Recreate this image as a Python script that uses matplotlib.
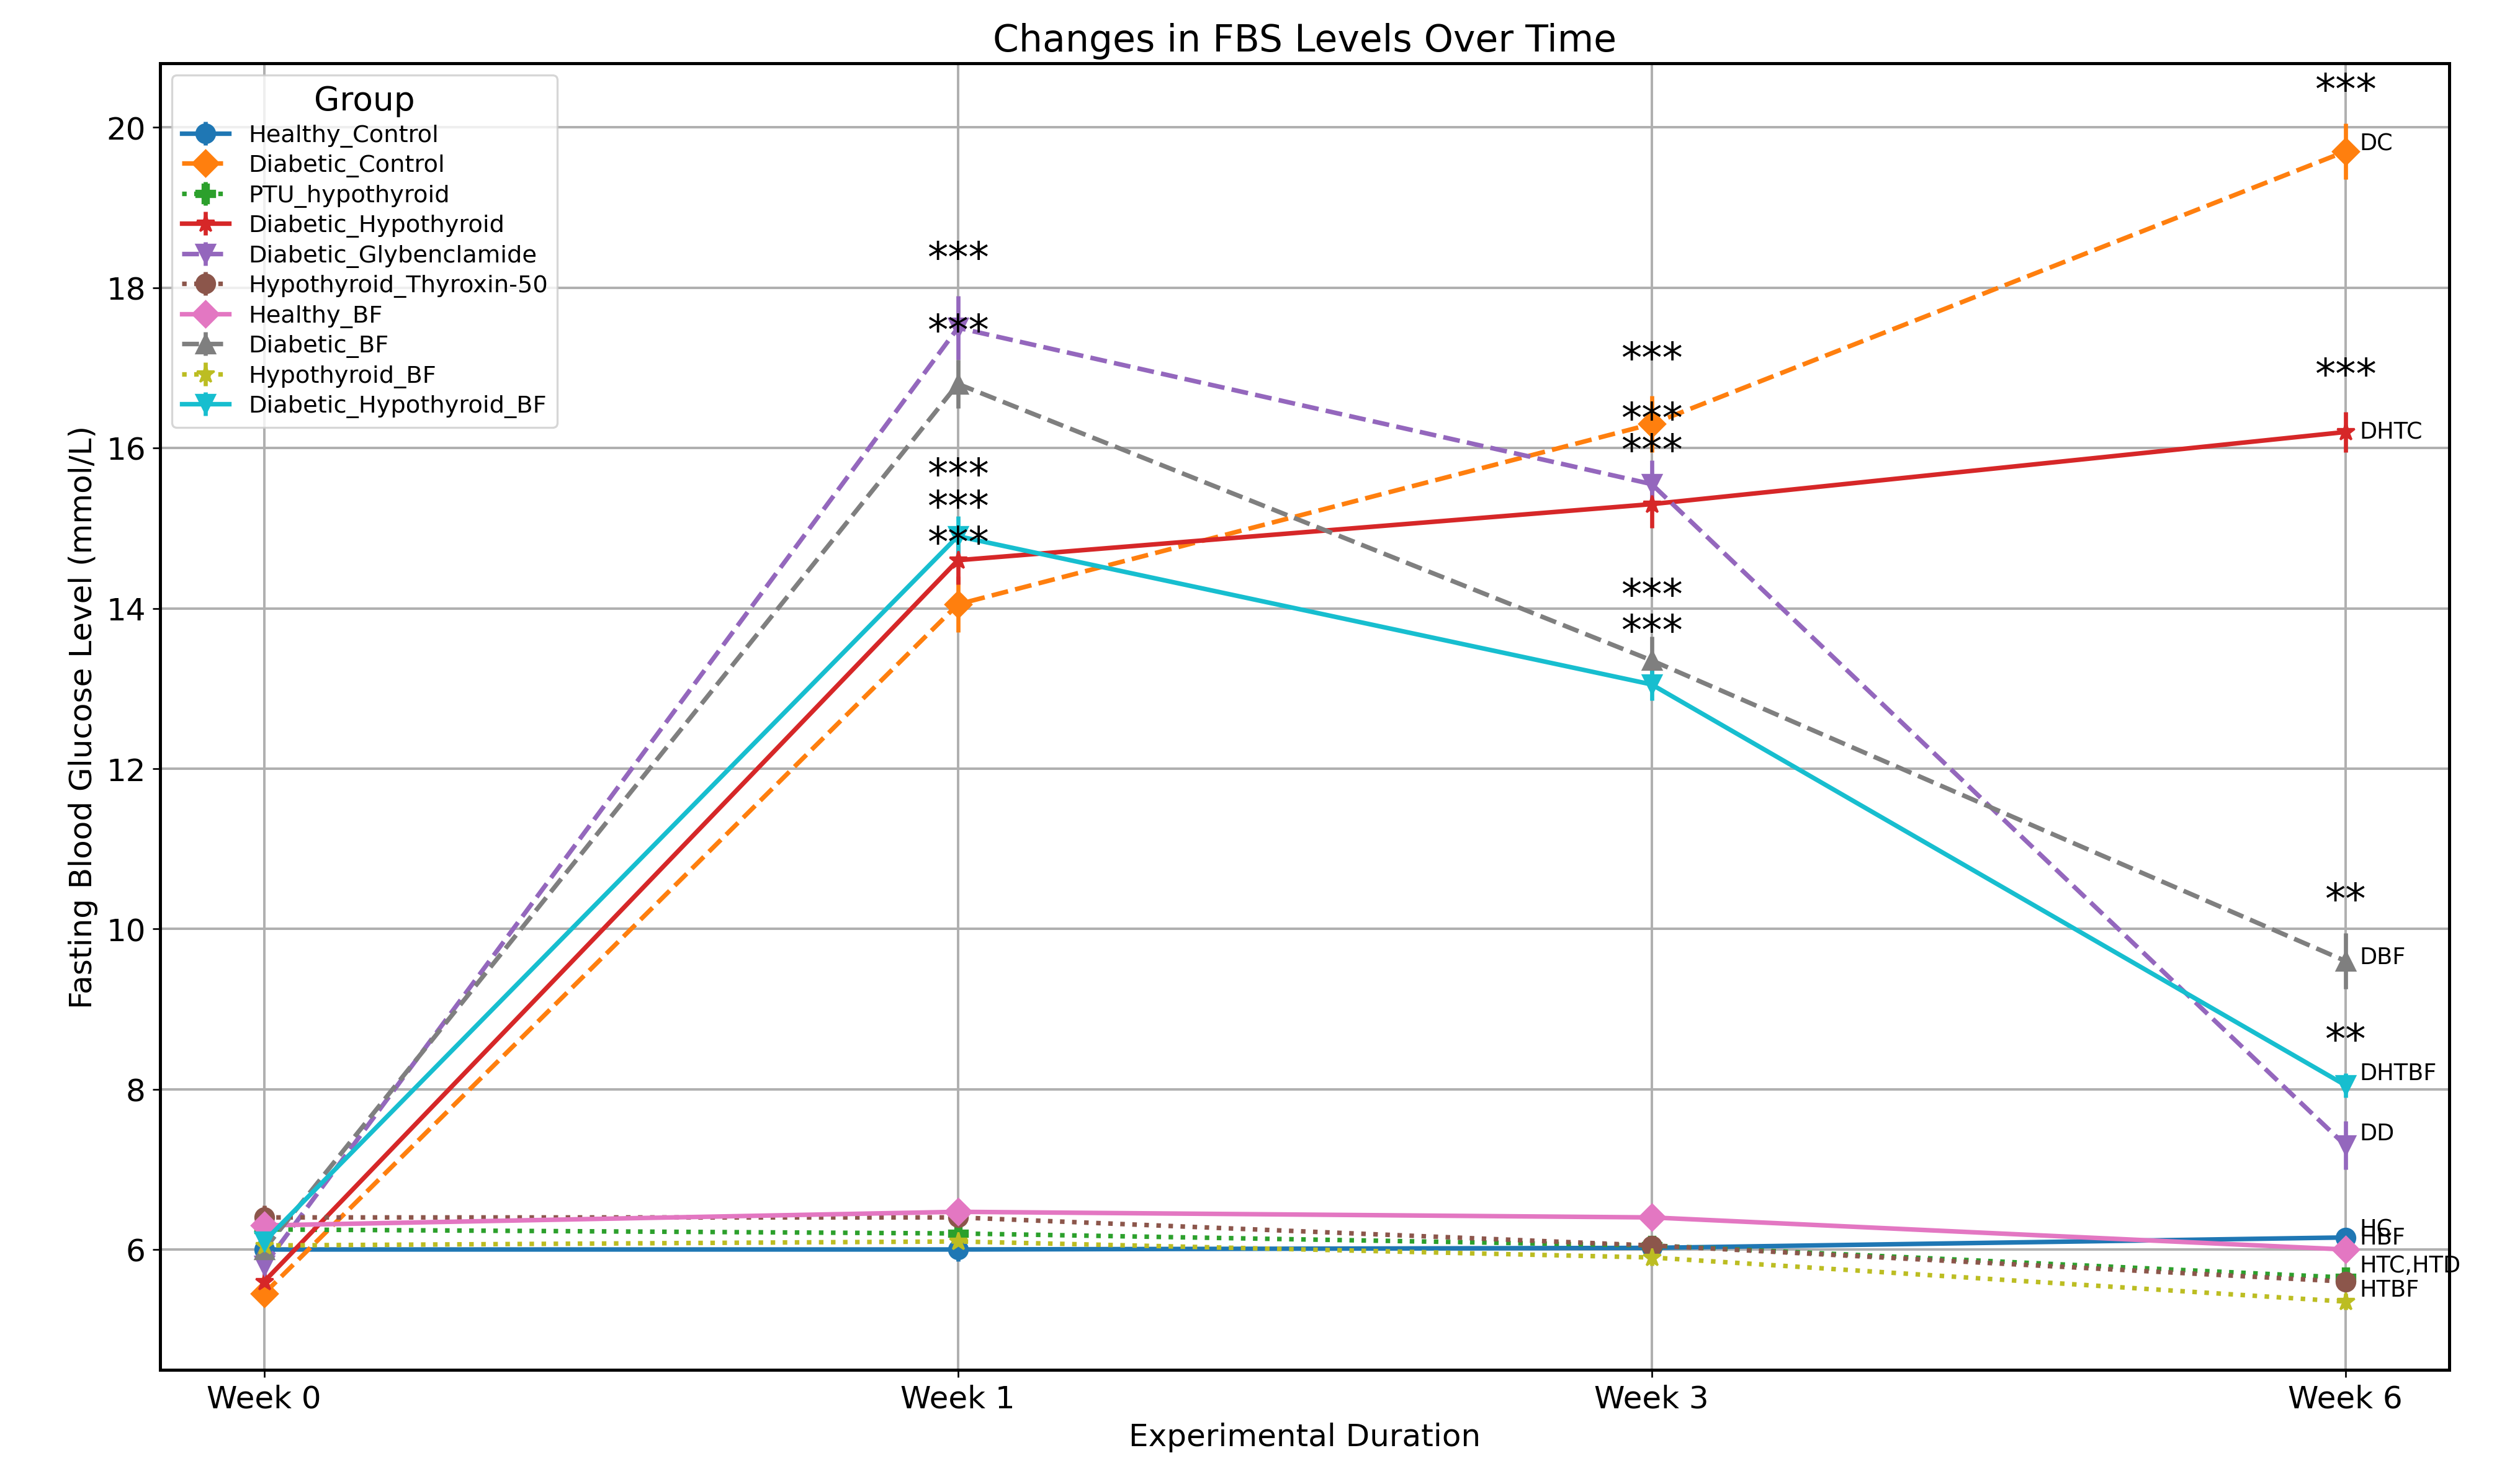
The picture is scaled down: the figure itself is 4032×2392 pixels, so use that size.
import matplotlib
matplotlib.use('Agg')
import matplotlib.pyplot as plt

weeks = ['Week 0', 'Week 1', 'Week 3', 'Week 6']
groups = ['Healthy_Control', 'Diabetic_Control', 'PTU_hypothyroid', 'Diabetic_Hypothyroid',
          'Diabetic_Glybenclamide', 'Hypothyroid_Thyroxin-50', 'Healthy_BF', 'Diabetic_BF',
          'Hypothyroid_BF', 'Diabetic_Hypothyroid_BF']
means = [
    [6.00, 6.00, 6.02, 6.15],
    [5.45, 14.05, 16.30, 19.70],
    [6.25, 6.20, 6.05, 5.65],
    [5.60, 14.60, 15.30, 16.20],
    [5.80, 17.50, 15.55, 7.30],
    [6.40, 6.40, 6.05, 5.60],
    [6.30, 6.47, 6.40, 6.00],
    [6.00, 16.80, 13.35, 9.60],
    [6.05, 6.10, 5.90, 5.35],
    [6.10, 14.90, 13.05, 8.05],
]
errs = [
    [0.10, 0.15, 0.10, 0.12],
    [0.15, 0.35, 0.35, 0.35],
    [0.10, 0.10, 0.10, 0.12],
    [0.15, 0.30, 0.30, 0.25],
    [0.15, 0.40, 0.30, 0.30],
    [0.15, 0.10, 0.10, 0.10],
    [0.10, 0.12, 0.10, 0.10],
    [0.15, 0.30, 0.30, 0.35],
    [0.10, 0.10, 0.10, 0.10],
    [0.15, 0.25, 0.20, 0.15],
]
markers = ['o', 'D', 'P', '*', 'v', 'o', 'D', '^', '*', 'v']
styles = ['-', '--', ':', '-', '--', ':', '-', '--', ':', '-']
colors = ['tab:blue', 'tab:orange', 'tab:green', 'tab:red', 'tab:purple',
          'tab:brown', 'tab:pink', 'tab:gray', 'tab:olive', 'tab:cyan']

# significance stars: (week index, y, text)
stars = [(1, 18.35, '***'), (1, 17.45, '***'), (1, 15.65, '***'), (1, 15.25, '***'), (1, 14.8, '***'),
         (2, 17.1, '***'), (2, 16.35, '***'), (2, 15.95, '***'), (2, 14.15, '***'), (2, 13.7, '***'),
         (3, 20.45, '***'), (3, 16.9, '***'), (3, 10.35, '**'), (3, 8.6, '**')]
# end labels at week 6
end_labels = [('DC', 19.8), ('DHTC', 16.2), ('DBF', 9.65), ('DHTBF', 8.2), ('DD', 7.45),
              ('HC', 6.25), ('HBF', 6.15), ('HTC,HTD', 5.8), ('HTBF', 5.5)]

fig, ax = plt.subplots(figsize=(16.8, 9.97), dpi=240)
x = list(range(len(weeks)))
for i, g in enumerate(groups):
    ax.errorbar(x, means[i], yerr=errs[i], marker=markers[i], ls=styles[i], lw=2.2,
                ms=9, color=colors[i], label=g, capsize=0, elinewidth=2)

for (wi, y, t) in stars:
    ax.text(wi, y, t, ha='center', va='center', fontsize=20)
for (t, y) in end_labels:
    ax.text(3.02, y, t, ha='left', va='center', fontsize=11)

ax.set_xticks(x)
ax.set_xticklabels(weeks, fontsize=15)
ax.tick_params(axis='y', labelsize=15)
ax.set_xlim(-0.15, 3.15)
ax.set_ylim(4.5, 20.8)
ax.set_yticks([6, 8, 10, 12, 14, 16, 18, 20])
ax.grid(True, lw=1.2)
ax.set_title('Changes in FBS Levels Over Time', fontsize=18)
ax.set_xlabel('Experimental Duration', fontsize=15)
ax.set_ylabel('Fasting Blood Glucose Level (mmol/L)', fontsize=15,
              family=['Liberation Sans Narrow', 'DejaVu Sans'])
for s in ax.spines.values():
    s.set_linewidth(1.5)
leg = ax.legend(title='Group', loc='upper left', fontsize=11.5, title_fontsize=16,
                labelspacing=0.3)
leg.get_frame().set_edgecolor('#cccccc')
plt.subplots_adjust(left=0.064, right=0.979, top=0.957, bottom=0.077)
plt.savefig('out.png', dpi=240)
